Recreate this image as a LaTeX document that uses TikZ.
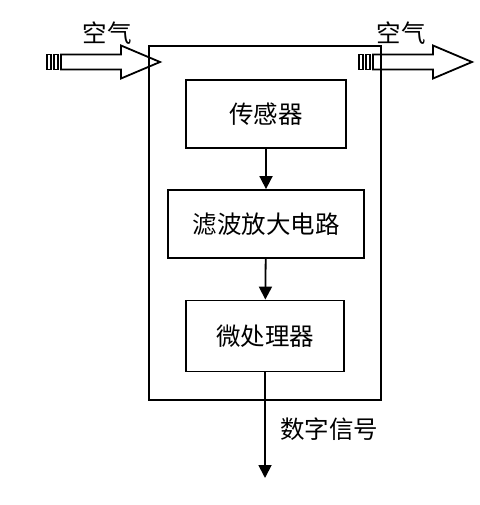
\documentclass[tikz,border=0pt]{standalone}
\usepackage{fontspec}
\newfontfamily\cjk{Noto Sans CJK SC}
\usetikzlibrary{arrows.meta,positioning,calc}

\tikzset{
  blockbox/.style={draw,line width=1.8pt,inner sep=0pt,font=\cjk\fontsize{24.5pt}{24.5pt}\selectfont},
  flow/.style={line width=1.8pt,-{Triangle[length=13pt,width=13pt]}},
  label/.style={font=\cjk\fontsize{24.5pt}{24.5pt}\selectfont}
}

\begin{document}
\begin{tikzpicture}[x=1pt,y=-1pt]
  \useasboundingbox (0,0) rectangle (479,505);
  % device housing
  \node[blockbox,minimum width=232pt,minimum height=354pt] (dev) at (265,223) {};
  % blocks
  \node[blockbox,minimum width=160pt,minimum height=68pt] (sensor) at (266,114) {传感器};
  \node[blockbox,minimum width=196pt,minimum height=68pt] (filter) at (266,224) {滤波放大电路};
  \node[blockbox,minimum width=158pt,minimum height=71pt] (mcu) at (265,336) {微处理器};
  \coordinate (out) at (265,478);
  \draw[flow] (sensor) -- (filter);
  \draw[flow] (filter) -- (mcu);
  \draw[flow] (mcu) -- (out);
  \node[label] (sig) at (329,429) {数字信号};
  % air in / air out
  \foreach \x in {47,359}{
    \begin{scope}[shift={(\x,62)},line width=1.8pt]
      \draw (0,-7.5) rectangle (4,7.5);
      \draw (7,-7.5) rectangle (11,7.5);
      \draw (14,-7.5) -- (74,-7.5) -- (74,-16.5) -- (113,0) -- (74,16.5)
        -- (74,7.5) -- (14,7.5) -- cycle;
    \end{scope}
  }
  \node[label] (airin) at (107,33) {空气};
  \node[label] (airout) at (401,33) {空气};
\end{tikzpicture}
\end{document}
